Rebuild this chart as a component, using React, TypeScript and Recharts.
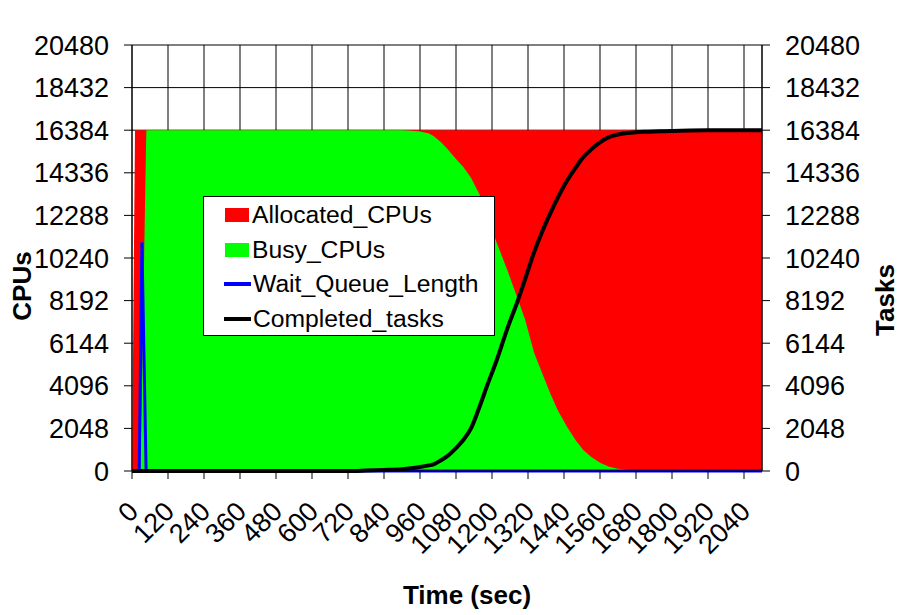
import {
  Area,
  CartesianGrid,
  ComposedChart,
  Legend,
  Line,
  XAxis,
  YAxis,
} from "recharts";

// time (sec) of each sample
const times = [
  0, 10, 24, 28, 33, 47, 48,
  120, 240, 360, 480, 600, 720,
  780, 840, 900, 930, 960, 990,
  1005, 1030, 1050, 1080, 1105, 1130,
  1160, 1185, 1215, 1250, 1285, 1310,
  1340, 1370, 1395, 1420, 1450, 1480,
  1505, 1530, 1560, 1590, 1620, 1650,
  1680, 1720, 1760, 1800, 1860, 1920,
  1980, 2040, 2100,
];

const allocatedCpus = [
  0, 16384, 16384, 16384, 16384, 16384, 16384,
  16384, 16384, 16384, 16384, 16384, 16384,
  16384, 16384, 16384, 16384, 16384, 16384,
  16384, 16384, 16384, 16384, 16384, 16384,
  16384, 16384, 16384, 16384, 16384, 16384,
  16384, 16384, 16384, 16384, 16384, 16384,
  16384, 16384, 16384, 16384, 16384, 16384,
  16384, 16384, 16384, 16384, 16384, 16384,
  16384, 16384, 16384,
];

const busyCpus = [
  0, 0, 0, 0, 4100, 15800, 16384,
  16384, 16384, 16384, 16384, 16384, 16384,
  16384, 16384, 16384, 16360, 16320, 16230,
  16100, 15800, 15500, 15000, 14600, 14100,
  13250, 12250, 11000, 9700, 8300, 7300,
  5700, 4600, 3700, 2900, 2130, 1450,
  1000, 680, 400, 200, 110, 60,
  35, 15, 0, 0, 0, 0,
  0, 0, 0,
];

const waitQueueLength = [
  0, 0, 0, 4900, 11000, 0, 0,
  0, 0, 0, 0, 0, 0,
  0, 0, 0, 0, 0, 0,
  0, 0, 0, 0, 0, 0,
  0, 0, 0, 0, 0, 0,
  0, 0, 0, 0, 0, 0,
  0, 0, 0, 0, 0, 0,
  0, 0, 0, 0, 0, 0,
  0, 0, 0,
];

const completedTasks = [
  0, 0, 0, 0, 0, 0, 0,
  0, 0, 0, 0, 0, 0,
  20, 50, 90, 130, 190, 270,
  320, 520, 700, 1100, 1500, 2050,
  3150, 4150, 5300, 6800, 8150, 9200,
  10500, 11600, 12400, 13150, 13950, 14600,
  15100, 15450, 15800, 16050, 16180, 16250,
  16290, 16310, 16330, 16350, 16370, 16380,
  16384, 16384, 16384,
];

const timeTicks = [
  0, 120, 240, 360, 480, 600, 720, 840, 960, 1080, 1200, 1320, 1440, 1560,
  1680, 1800, 1920, 2040,
];

const cpuTicks = [
  0, 2048, 4096, 6144, 8192, 10240, 12288, 14336, 16384, 18432, 20480,
];

const seriesOrder = [
  "Allocated_CPUs",
  "Busy_CPUs",
  "Wait_Queue_Length",
  "Completed_tasks",
];

const data = times.map((t, i) => ({
  t,
  allocated: allocatedCpus[i],
  busy: busyCpus[i],
  wait: waitQueueLength[i],
  completed: completedTasks[i],
}));

const FONT = "'Liberation Sans', Arial, sans-serif";

function TimeTick({ x, y, payload }: any) {
  const ax = x + 8;
  const ay = y + 32;
  return (
    <text
      x={ax}
      y={ay}
      transform={`rotate(-45, ${ax}, ${ay})`}
      textAnchor="end"
      fontSize={27}
      fontFamily={FONT}
      fill="#000"
    >
      {payload.value}
    </text>
  );
}

function LegendBox(props: any) {
  const payload = [...(props.payload ?? [])].sort(
    (a: any, b: any) =>
      seriesOrder.indexOf(a.value) - seriesOrder.indexOf(b.value)
  );
  return (
    <div
      style={{
        width: 292,
        height: 140,
        boxSizing: "border-box",
        border: "1px solid #000",
        background: "#fff",
        padding: "1px 0 0 20px",
        fontFamily: FONT,
        fontSize: 24.7,
        color: "#000",
      }}
    >
      {payload.map((entry: any) => (
        <div
          key={entry.value}
          style={{ display: "flex", alignItems: "center", height: 34.5 }}
        >
          {entry.type === "rect" ? (
            <span
              style={{
                display: "inline-block",
                width: 24,
                height: 14,
                marginLeft: 1,
                marginRight: 3,
                background: entry.color,
              }}
            />
          ) : (
            <span
              style={{
                display: "inline-block",
                width: 27,
                height: 4,
                marginRight: 2,
                background: entry.color,
              }}
            />
          )}
          <span>{entry.value}</span>
        </div>
      ))}
    </div>
  );
}

export default function App() {
  return (
    <div
      style={{
        position: "absolute",
        left: 0,
        top: 0,
        width: 903,
        height: 615,
        background: "#fff",
      }}
    >
      <ComposedChart
        width={903}
        height={615}
        data={data}
        margin={{ top: 45, right: 0, bottom: 0, left: 0 }}
      >
        <CartesianGrid
          yAxisId="left"
          stroke="#000"
          strokeWidth={1}
          strokeOpacity={1}
        />
        <XAxis
          dataKey="t"
          type="number"
          domain={[0, 2100]}
          ticks={timeTicks}
          interval={0}
          height={144}
          tickSize={8}
          tick={<TimeTick />}
          tickLine={{ stroke: "#000" }}
          axisLine={{ stroke: "#000" }}
          label={{
            content: (p: any) => {
              const vb = p.viewBox ?? { x: 132, y: 471, width: 630 };
              return (
                <text
                  x={vb.x + vb.width / 2 + 20}
                  y={vb.y + 133}
                  textAnchor="middle"
                  fontSize={26}
                  fontWeight="bold"
                  fontFamily={FONT}
                  fill="#000"
                >
                  Time (sec)
                </text>
              );
            },
          }}
        />
        <YAxis
          yAxisId="left"
          width={132}
          domain={[0, 20480]}
          ticks={cpuTicks}
          interval={0}
          tickSize={8}
          tickMargin={15}
          tick={{ fontSize: 27, fill: "#000", fontFamily: FONT }}
          tickLine={{ stroke: "#000" }}
          axisLine={{ stroke: "#000" }}
          label={{
            content: (p: any) => {
              const vb = p.viewBox ?? { x: 0, y: 45, height: 426 };
              const cx = vb.x + 22;
              const cy = vb.y + vb.height / 2 + 28;
              return (
                <text
                  x={cx}
                  y={cy}
                  transform={`rotate(-90, ${cx}, ${cy})`}
                  textAnchor="middle"
                  dy="0.36em"
                  fontSize={26}
                  fontWeight="bold"
                  fontFamily={FONT}
                  fill="#000"
                >
                  CPUs
                </text>
              );
            },
          }}
        />
        <YAxis
          yAxisId="right"
          orientation="right"
          width={141}
          domain={[0, 20480]}
          ticks={cpuTicks}
          interval={0}
          tickSize={8}
          tickMargin={15}
          tick={{ fontSize: 27, fill: "#000", fontFamily: FONT }}
          tickLine={{ stroke: "#000" }}
          axisLine={{ stroke: "#000" }}
          label={{
            content: (p: any) => {
              const vb = p.viewBox ?? { x: 762, y: 45, height: 426 };
              const cx = vb.x + 123;
              const cy = vb.y + vb.height / 2 + 42;
              return (
                <text
                  x={cx}
                  y={cy}
                  transform={`rotate(-90, ${cx}, ${cy})`}
                  textAnchor="middle"
                  dy="0.36em"
                  fontSize={26}
                  fontWeight="bold"
                  fontFamily={FONT}
                  fill="#000"
                >
                  Tasks
                </text>
              );
            },
          }}
        />
        <Area
          yAxisId="left"
          type="linear"
          dataKey="allocated"
          name="Allocated_CPUs"
          fill="#ff0000"
          fillOpacity={1}
          stroke="none"
          legendType="rect"
          isAnimationActive={false}
        />
        <Area
          yAxisId="left"
          type="linear"
          dataKey="busy"
          name="Busy_CPUs"
          fill="#00ff00"
          fillOpacity={1}
          stroke="none"
          legendType="rect"
          isAnimationActive={false}
        />
        <Line
          yAxisId="left"
          type="linear"
          dataKey="wait"
          name="Wait_Queue_Length"
          stroke="#0000ff"
          strokeWidth={3}
          dot={false}
          legendType="line"
          isAnimationActive={false}
        />
        <Line
          yAxisId="right"
          type="monotone"
          dataKey="completed"
          name="Completed_tasks"
          stroke="#000"
          strokeWidth={4}
          dot={false}
          legendType="line"
          isAnimationActive={false}
        />
        <Legend
          layout="horizontal"
          verticalAlign="middle"
          align="center"
          content={<LegendBox />}
          wrapperStyle={{ left: 203, top: 196, width: 292, height: 140 }}
        />
      </ComposedChart>
    </div>
  );
}
